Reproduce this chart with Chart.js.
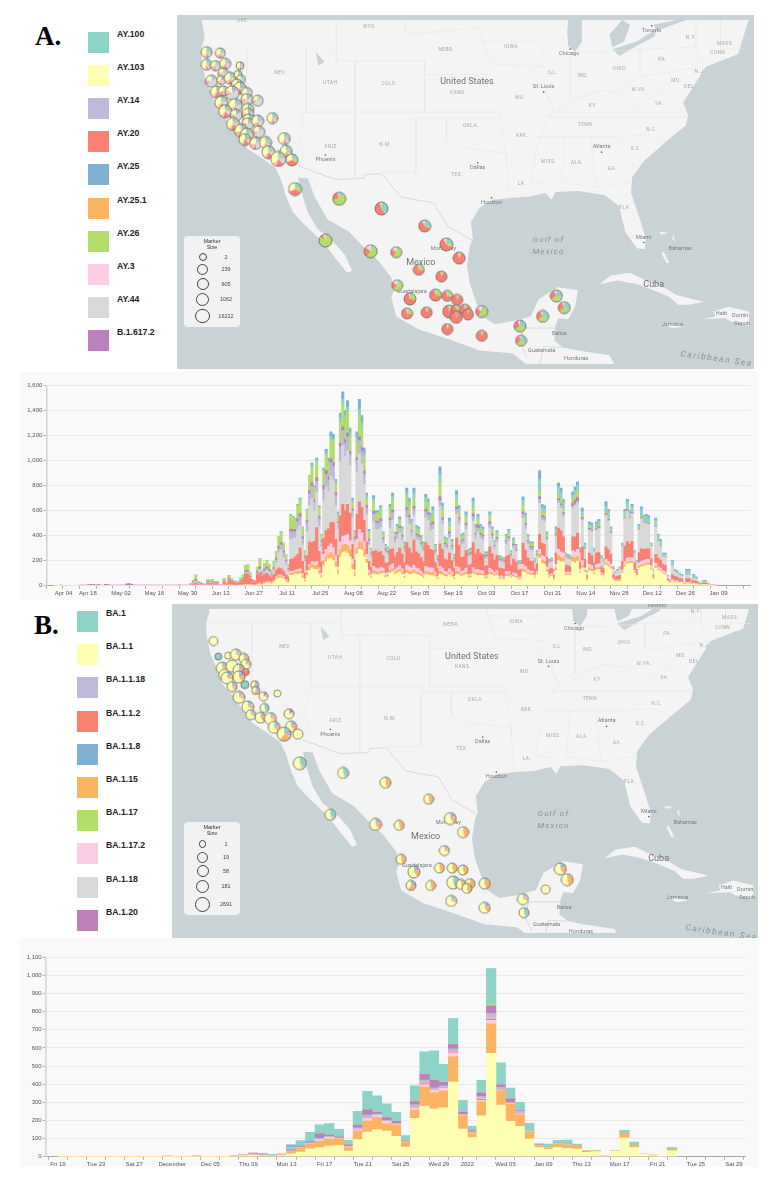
<!DOCTYPE html>
<html>
<head>
<meta charset="utf-8">
<script src="https://cdn.jsdelivr.net/npm/chart.js@4/dist/chart.umd.min.js"></script>
<style>
html, body { margin: 0; padding: 0; background: #fff; }
body { position: relative; width: 777px; height: 1179px; overflow: hidden; font-family: "Liberation Sans", Arial, sans-serif; }
canvas { position: absolute; display: block; }
.panel { background: #f9f9f9; }
.sea { background: #c9d2d5; }
.letter { position: absolute; font: bold 27px "Liberation Serif", serif; color: #000; line-height: 27px; }
.swatch { position: absolute; width: 21px; height: 21px; box-shadow: 0 0 0 1px rgba(255,255,255,.5); }
.name { position: absolute; font-weight: bold; font-size: 8.7px; line-height: 10px; color: #222; }
.sizebox { position: absolute; width: 56px; background: #f1f2f2; border-radius: 4px; }
.sizetitle { position: absolute; left: 0; width: 100%; text-align: center; font-size: 5.5px; line-height: 6px; color: #333; }
.ring { position: absolute; border: 0.7px solid #444; border-radius: 50%; box-sizing: border-box; }
.sizelabel { position: absolute; font-size: 5.5px; line-height: 6px; color: #444; width: 24px; text-align: center; }
</style>
</head>
<body>
<div class="letter" style="left:35px;top:23px">A.</div>
<div class="letter" style="left:34px;top:612px">B.</div>
<canvas id="mapA" class="sea" width="577" height="354" style="left:177px;top:15px"></canvas>
<canvas id="barsA" class="panel" width="738" height="228" style="left:20px;top:372px"></canvas>
<canvas id="mapB" class="sea" width="586" height="334" style="left:172px;top:604px"></canvas>
<canvas id="barsB" class="panel" width="738" height="229" style="left:20px;top:938px"></canvas>
<script>
// Legend names, same colour slot for both panels
const namesA = ['AY.100', 'AY.103', 'AY.14', 'AY.20', 'AY.25', 'AY.25.1', 'AY.26', 'AY.3', 'AY.44', 'B.1.617.2'];
const namesB = ['BA.1', 'BA.1.1', 'BA.1.1.18', 'BA.1.1.2', 'BA.1.1.8', 'BA.1.15', 'BA.1.17', 'BA.1.17.2', 'BA.1.18', 'BA.1.20'];
const palette = ['#8dd3c7', '#ffffb3', '#bebada', '#fb8072', '#80b1d3', '#fdb462', '#b3de69', '#fccde5', '#d9d9d9', '#bc80bd'];
// Bottom to top of the stacks, counter-clockwise in the pies
const stackOrder = [1, 5, 7, 3, 8, 2, 9, 6, 0, 4];

// Panel A daily counts, Apr 04 onward
const quietA = [0,0,0,0,0,0,0,0,0,0,0,0,0,0,0,0,0,0,0,0,0,0,0,0,0,0,0,0,0,0,0,0,0,0,0,0,0,0,0,0,0,0,0,0,0,0,0,0,0,0,0,0,0,0,0,0,0];
const ay103 = [...quietA, 0,0,0,0,0,0,0,0,0,0,0,0,0,0,0,0,0,0,0,0,0,0,0,0,0,0,0,0,
  5,8,5,15,20,20,15,25,50,60,60,50,30,20,
  85,85,95,90,95,60,30, 80,120,140,130,130,90,60, 160,190,215,220,200,150,90, 230,265,270,260,230,130,70,
  250,290,285,230,180,80,60, 95,90,85,95,100,65,70, 100,110,90,100,110,90,60, 100,90,90,100,90,85,75,60,
  90,85,80,80,70,50, 90,85,75,70,85,70,50, 90,85,75,80,90,60,65, 95,85,80,80,80,55,60, 90,85,75,80,50,55,45,
  75,75,60,70,65,45,50, 110,105,90,85,85,60,90, 220,180,170,110,65,75,45, 120,200,190,190,80,85,80,
  190,180,195,100,140,110,40, 120,110,90,125,130,80,70, 165,150,135,45,30,35,35, 100,150,175,180,180,100,70,
  140,150,155,165,165,130,50, 140,120,110,95,85,30,20, 30,25,25,20,20,8,15,15,10,12,10,6,5,8,8,5,3,2,1];
const ay251 = [...quietA, 0,0,0,0,0,0,0,0,0,0,0,0,0,0,
  2,1,2,2,2,1,1, 2,2,3,3,3,1,1,
  3,4,3,5,5,5,4,5,8,12,12,10,8,6,
  15,15,15,20,20,20,12, 25,30,30,30,35,30,20, 40,40,40,45,45,40,30, 60,60,60,60,60,40,30,
  50,60,60,60,30,20,15, 25,20,20,20,15,15,15, 25,25,15,20,20,20,15, 25,25,20,25,20,20,15,15,
  25,25,25,25,15,10, 25,20,15,15,20,15,10, 25,25,15,15,20,10,10, 20,15,20,15,15,10,10, 20,15,12,15,8,8,8,
  15,15,10,12,10,8,8, 25,20,15,12,12,8,10, 30,25,25,15,8,8,5, 20,40,35,30,10,10,8,
  40,40,40,10,25,12,5, 20,20,10,15,15,8,5, 15,15,12,4,3,3,5, 10,15,15,15,15,8,5,
  15,15,15,15,15,10,5, 15,10,10,5,5,2,1, 3,2,2,1,1,0,2,2,1,1,1,0,0,0,0,0,0,0,0];
const ay3 = [...quietA, 2,3,5,3,2,2,1,3,3,3,2,2,1,1,
  4,2,5,4,3,2,2, 3,5,7,7,5,3,3,
  5,8,5,7,8,7,5,8,12,15,15,12,10,7,
  15,15,15,20,20,15,10, 15,20,25,25,30,25,20, 50,60,60,70,60,50,30, 60,70,70,90,70,40,25,
  70,100,80,60,40,25,20, 35,30,30,30,25,20,20, 35,40,25,25,30,25,20, 40,35,30,40,30,30,25,20,
  40,35,35,35,20,15, 40,35,25,25,30,25,15, 35,35,25,25,30,20,20, 30,25,30,25,25,15,15, 30,25,20,25,15,15,12,
  25,25,15,20,20,12,12, 35,30,25,20,20,15,15, 40,35,35,25,12,12,8, 30,50,45,40,15,15,15,
  50,50,55,20,35,20,8, 30,30,20,30,30,15,12, 30,30,25,10,8,8,8, 15,30,30,30,30,15,10,
  30,30,30,30,30,20,10, 25,20,20,20,20,8,5, 15,12,12,10,8,3,10,10,5,8,6,3,2,3,3,2,1,1,1];
const ay20 = [...quietA, 5,12,15,8,6,5,3,15,14,18,12,14,4,4,
  30,10,45,28,22,18,18, 25,45,85,85,50,28,20,
  75,85,65,65,65,50,45,50,55,55,50,45,40,35,
  95,100,105,120,165,100,50, 120,180,150,170,270,130,90, 130,150,140,170,200,130,90, 210,255,200,240,220,120,80,
  200,220,200,170,100,70,50, 120,140,130,130,100,80,80, 130,120,100,120,140,120,90, 180,150,120,200,130,120,110,95,
  190,175,150,140,80,65, 180,150,100,95,125,90,65, 230,180,110,110,140,70,75, 200,130,160,140,130,75,75, 170,130,100,120,70,60,65,
  120,130,80,110,95,60,60, 170,130,90,80,75,50,60, 120,100,100,80,45,45,30, 90,170,170,130,60,50,50,
  110,120,130,60,110,70,30, 90,80,60,90,90,50,50, 100,90,80,30,30,30,35, 70,120,130,110,130,60,45,
  80,100,90,85,85,55,20, 70,70,65,50,50,15,12, 40,35,30,25,25,5,30,30,12,20,18,8,5,10,10,5,2,2,1];
const ay44 = [...quietA, 0,5,10,3,3,1,1,3,3,4,3,2,1,1,
  2,1,2,2,1,1,1, 3,3,5,5,4,2,2,
  5,15,8,15,22,20,10,30,55,120,150,110,80,45,
  160,160,150,200,180,130,90, 190,290,350,240,280,200,120, 300,350,300,370,340,270,210, 430,470,430,430,380,220,140,
  340,380,350,290,220,130,85, 240,170,185,190,100,80,60, 170,230,110,110,120,100,90, 200,190,130,200,100,105,85,80,
  200,200,150,170,70,50, 300,200,90,85,120,85,55, 190,170,100,105,170,70,70, 170,120,140,120,115,60,60, 150,120,85,110,50,50,50,
  95,115,65,90,80,40,40, 200,170,110,85,90,50,60, 250,180,180,130,50,50,25, 130,200,180,160,60,55,55,
  230,250,240,70,210,80,25, 180,190,90,180,190,60,50, 250,230,165,42,28,38,50, 120,220,245,200,220,80,55,
  180,240,210,200,195,100,35, 220,130,105,60,70,18,8, 70,30,28,25,20,2,30,30,10,20,15,5,3,5,6,2,1,1,1];
const ay14 = [...quietA, 2,5,10,4,4,2,1,5,4,5,4,3,1,1,
  3,2,4,3,2,2,2, 4,5,10,10,6,3,3,
  7,15,7,13,15,15,10,15,25,35,40,35,25,15,
  60,55,50,60,70,50,30, 70,90,100,70,90,60,40, 90,100,90,110,110,80,50, 120,120,110,110,90,50,30,
  90,110,100,80,50,35,20, 60,50,50,50,30,25,20, 60,60,30,35,40,35,25, 60,55,40,50,30,30,25,20,
  45,45,40,40,20,15, 45,35,25,25,35,25,15, 40,35,25,25,35,15,15, 35,30,30,25,25,15,15, 30,25,20,25,12,12,12,
  20,20,15,20,15,10,8, 35,30,20,20,20,10,12, 30,25,25,15,8,8,5, 15,20,20,20,8,8,8,
  15,15,15,8,12,8,3, 10,10,5,8,8,5,4, 8,8,5,2,1,2,2, 3,5,5,5,5,2,2,
  3,5,3,3,3,2,1, 3,3,2,1,1,0,0, 2,1,1,1,0,0,1,1,0,0,0,0,0,0,0,0,0,0,0];
const b16172 = [0,0,1,0,0,0,0,0,0,0,1,3,3,1,6,8,7,5,8,1,1,10,7,2,1,1,2,2,2,1,12,15,11,3,1,2,2,2,1,1,1,1,2,1,1,1,1,1,1,2,2,3,4,3,2,3,3,
  3,8,10,4,3,2,2,6,4,5,4,3,1,1,
  4,2,6,4,3,2,2, 5,5,10,10,7,3,3,
  10,15,7,15,15,13,8,12,15,18,18,15,12,10,
  20,20,20,25,25,15,12, 20,30,30,25,30,20,15, 30,30,30,30,30,25,15, 30,30,30,30,25,15,15,
  25,30,30,30,20,15,10, 20,15,15,20,15,10,10, 20,20,15,15,15,15,10, 20,20,15,20,15,15,12,10,
  20,20,15,20,10,8, 30,20,12,10,15,10,8, 20,15,10,10,15,10,10, 25,15,25,15,15,10,10, 20,15,10,10,8,6,6,
  10,10,8,10,8,5,5, 15,15,10,10,10,5,5, 20,15,15,10,4,4,2, 10,15,15,15,5,5,4,
  25,30,30,5,15,5,2, 8,8,5,10,10,3,3, 8,8,8,2,2,2,2, 4,5,8,5,8,2,2,
  5,5,5,5,5,2,1, 4,3,3,2,2,1,0, 2,1,1,1,1,0,1,1,0,1,0,0,0,0,0,0,0,0,0];
const ay26 = [...quietA, 3,7,35,8,7,3,2,18,12,15,10,6,2,2,
  10,2,16,12,7,4,4, 18,20,40,45,25,10,8,
  35,65,20,40,50,40,23,45,55,75,80,60,45,32,
  110,95,80,100,110,70,40, 80,110,125,90,125,65,35, 110,120,100,150,165,70,45, 170,180,150,170,120,50,25,
  130,170,150,110,60,45,25, 75,50,55,70,25,20,20, 70,80,25,35,40,40,20, 80,70,45,70,35,35,30,25,
  65,60,40,60,20,12, 110,55,25,30,50,25,15, 55,45,25,25,40,15,15, 50,35,40,35,30,15,10, 40,30,18,30,12,12,10,
  25,30,12,20,17,8,7, 50,40,25,20,18,10,12, 40,35,35,20,8,8,4, 20,35,35,30,10,10,8,
  30,35,40,10,20,12,2, 15,12,8,10,12,6,5, 12,12,10,4,2,2,3, 5,15,15,10,12,4,3,
  7,10,7,7,7,3,2, 8,6,5,3,3,1,1, 3,2,1,1,1,0,1,1,0,1,1,0,0,0,0,0,0,0,0];
const ay100 = [...quietA, 0,0,0,0,0,0,0,0,0,0,0,0,0,0,0,0,0,0,0,0,0,0,0,0,0,0,0,0,0,0,0,0,0,0,0,0,0,0,
  5,3,0,0,
  5,5,5,10,10,5,3, 5,5,15,10,15,10,5, 15,20,20,30,25,15,15, 35,45,40,40,30,15,15,
  35,50,45,30,20,15,10, 25,20,15,20,10,8,8, 20,30,10,15,20,15,10, 40,35,20,40,15,15,12,15,
  30,30,25,35,15,8, 75,35,13,15,35,15,10, 45,30,15,15,30,12,12, 50,20,25,20,20,8,8, 25,15,12,15,8,7,7,
  15,20,8,18,12,7,5, 45,25,15,10,12,7,8, 100,30,30,15,5,5,3, 20,60,60,50,7,7,7,
  35,45,55,10,30,13,3, 20,25,7,27,30,8,6, 50,45,20,6,3,5,5, 8,35,45,30,33,5,4,
  20,55,33,45,40,12,3, 40,38,40,17,18,3,2, 25,17,15,12,10,1,30,30,9,20,15,6,4,10,10,5,2,1,1];
const ay25 = [...quietA, 0,0,0,0,0,0,0,0,0,0,0,0,0,0,0,0,0,0,0,0,0,0,0,0,0,0,0,0,0,0,0,0,0,0,0,0,0,0,0,0,0,0,
  5,5,5,5,5,5,3, 5,5,15,10,15,10,5, 15,30,25,35,35,20,15, 35,55,40,50,35,20,10,
  40,80,60,40,20,15,5, 25,15,15,15,10,7,7, 20,25,10,15,15,10,10, 35,30,20,35,15,15,11,10,
  25,20,20,25,10,7, 55,25,10,10,25,10,7, 30,20,10,10,20,8,8, 25,15,20,15,15,7,7, 15,10,8,10,7,5,5,
  10,10,7,10,8,5,5, 25,15,10,8,8,5,8, 70,25,25,10,5,5,3, 15,30,30,25,5,5,5,
  25,25,30,7,23,10,2, 17,15,5,15,15,5,5, 32,22,10,5,3,5,5, 5,15,22,15,17,4,4,
  10,20,12,15,15,6,3, 15,10,10,7,6,2,1, 10,5,5,4,4,1,10,10,3,7,4,2,1,4,3,1,1,1,0];
const seriesA = [ay100, ay103, ay14, ay20, ay25, ay251, ay26, ay3, ay44, b16172];

// Panel B daily counts, Nov 19 onward
const ba11 = [0,0,0,0,0,0,0,0,0,0,0,1,0,0,1,0,0,0,3,6,7,5,4,6,16,26,43,50,59,61,31,94,136,149,142,112,53,211,279,263,270,412,153,105,226,570,285,195,167,97,51,40,51,46,42,24,28,3,29,103,50,13,6,1,33];
const ba115 = [0,0,0,0,0,0,0,0,0,0,0,0,0,0,3,0,0,0,1,2,3,2,2,3,12,22,25,35,38,36,20,47,61,68,40,63,26,46,105,90,92,139,73,18,77,163,79,95,65,39,10,11,19,18,18,8,5,0,2,24,14,2,3,0,7];
const ba1172 = [0,0,0,0,0,0,0,0,0,0,0,0,0,0,0,0,0,0,1,1,2,2,1,1,2,2,5,10,10,3,3,8,14,11,13,4,3,13,13,13,15,21,3,5,8,19,5,6,6,2,2,1,1,1];
const ba112 = [0,0,0,0,0,0,0,0,0,0,0,0,0,0,0,0,0,0,0,0,0,0,0,0,1,1,1,1,1,1,1,2,4,2,1,1,1,2,5,3,3,2,1,3,6,9,2,1,1];
const ba118 = [0,0,0,0,0,0,0,0,0,0,0,0,0,0,0,0,0,0,0,0,0,0,0,0,0,0,0,0,0,0,0,2,2,1,1,1,0,1,3,2,1,3,0,0,3,5,1];
const ba1118 = [0,0,0,0,0,0,0,0,0,0,0,0,0,0,0,0,0,0,0,0,1,1,0,0,2,2,3,6,4,3,3,6,12,4,4,3,1,14,17,9,10,18,4,8,12,25,11,1,13,1,1];
const ba120 = [0,0,0,0,0,0,0,0,0,0,0,0,0,0,0,0,0,0,0,0,1,1,1,1,5,5,6,24,7,6,7,16,30,10,15,11,3,17,32,41,19,23,12,5,19,40,13,21,2,1,1];
const ba117 = [0,0,0,0,0,0,0,0,0,0,0,3,0,0,0,0,0,0,0,0,0,0,0,0,0,0,0,0,0,0,0,1,3,2,1,1,1,3,3,3,1,3,1,1,1,10,1,1,1,1];
const ba1 = [0,0,0,0,0,0,0,0,0,0,0,0,0,0,0,0,0,0,3,3,6,6,4,4,15,28,50,48,62,40,25,74,98,88,73,49,27,83,120,159,99,139,63,22,68,196,121,58,45,43,8,18,19,27,10,1,1,1,1,18,16,0,0,0,11];
const ba118b = [0,0,0,0,0,0,0,0,0,0,0,0,0,0,0,0,0,0,0,0,0,0,0,0,12,2,2,1,1,1,0,0,0,0,0,0,0,0,0,0,0,0,0,0,0,0];
const seriesB = [ba1, ba11, ba1118, ba112, ba118b, ba115, ba117, ba1172, ba118, ba120];

// X axes
const tickDaysA = [0,7,14,21,28,35,42,49,56,63,70,77,84,91,98,105,112,119,126,133,140,147,154,161,168,175,182,189,196,203,210,217,224,231,238,245,252,259,266,273,280,287];
const tickLabelsA = ['Apr 04','','Apr 18','','May 02','','May 16','','May 30','','Jun 13','','Jun 27','','Jul 11','','Jul 25','','Aug 08','','Aug 22','','Sep 05','','Sep 19','','Oct 03','','Oct 17','','Oct 31','','Nov 14','','Nov 28','','Dec 12','','Dec 26','','Jan 09',''];
const tickDaysB = [0,2,4,6,8,10,12,14,16,18,20,22,24,26,28,30,32,34,36,38,40,42,43,45,47,49,51,53,55,57,59,61,63,65,67,69,71];
const tickLabelsB = ['Fri 19','','Tue 23','','Sat 27','','December','','Dec 05','','Thu 09','','Mon 13','','Fri 17','','Tue 21','','Sat 25','','Wed 29','','2022','','Wed 05','','Jan 09','','Thu 13','','Mon 17','','Fri 21','','Tue 25','','Sat 29'];
const yTicksStepA = 200, yMaxA = 1600, yTicksStepB = 100, yMaxB = 1100;

// Base map, flat x,y lists in map units
const continent = [197,15,200,33,197,43,197,57,201,77,207,90,213,107,227,123,233,133,243,147,258,157,272,167,278,180,283,197,290,213,303,227,320,243,333,260,345,275,350,273,343,257,328,240,315,230,305,213,300,197,295,177,305,178,312,197,325,220,347,233,363,250,377,263,390,280,393,293,390,300,395,320,417,333,447,343,480,355,513,358,527,369,617,369,612,360,580,355,565,352,556,345,557,330,560,322,570,323,577,310,580,293,560,290,540,302,532,320,513,325,495,328,483,320,477,307,470,287,467,267,470,247,473,240,471,223,480,208,493,200,513,198,530,197,547,193,553,200,557,192,580,191,607,195,622,207,628,233,640,250,648,251,649,240,643,220,634,193,635,177,647,160,670,140,690,123,692,113,687,100,710,63,743,50,752,20,754,15];
const islands = [
  [602,287,613,278,633,275,647,282,667,290,680,298,708,305,693,308,682,308,673,300,657,293,640,287,620,283],
  [718,315,733,310,754,315,754,330,735,325,730,322,707,323,720,320],
  [666,327,680,328,687,331,675,332],
  [667,253,673,265,670,265,665,255],
  [662,233,672,234,665,236],
  [677,236,679,244,676,240]
];
const lakes = [
  [570,15,584,15,584,37,577,48,570,42,569,27],
  [615,45,640,37,660,24,658,32,637,43,622,52],
  [657,20,680,15,690,15,660,26],
  [625,15,633,20,627,37,615,43,612,30],
  [313,48,322,58,316,62]
];
const stateLines = [
  [197,44,303,44],[243,44,243,103,268,122,302,150],[303,44,303,110],[303,110,298,110,300,125,296,140,302,150,296,165],
  [334,15,334,57,400,57],[303,44,334,44],[353,57,353,178],[303,110,424,110],[380,57,424,57],[424,57,424,110,500,110],[404,15,404,30,480,23],
  [424,71,493,71],[415,116,500,116],[415,116,415,172,380,172],[446,116,446,140,463,147,507,152],[500,110,507,152,507,159,510,197],[507,159,537,159],
  [545,77,555,110,547,120,537,150,532,182,550,183],[480,23,490,60,545,63],[480,37,537,37],[537,37,545,47,533,70,545,87,555,107],
  [572,48,600,48],[572,48,572,97],[600,48,643,45,643,70,623,90,600,87],[547,115,690,115],[623,90,637,107,667,87],[643,45,700,43,708,63,643,73],
  [537,135,617,135],[567,135,563,182],[593,135,598,187],[598,187,635,182],[563,182,598,187],[617,135,638,167],[617,135,650,133,670,140],
  [572,97,600,87],[600,87,547,115],[667,87,690,115],[700,15,700,43],[725,15,725,45,750,45]
];
const usMexicoBorder = [295,165,333,179,362,178,363,174,380,173,400,197,415,200,433,203,447,227,473,242];
const centralBorders = [[521,345,525,332,560,332,557,345],[541,369,545,351,565,352],[525,332,520,345,528,362]];
const cityNames = ['Toronto','Chicago','St. Louis','Atlanta','Dallas','Houston','Miami','Phoenix','Monterrey','Guadalajara','Belize','Guatemala','Honduras','Bahamas','Haiti','Domin','Repub','Jamaica'];
const cityX = [655,571,545,604,478,492,647,323,443,411,561,543,578,684,726,745,747,676];
const cityY = [26,50,84,145,167,203,239,159,250,295,338,355,363,250,317,319,327,328];
const dotX = [655,572,545,604,478,492,647,323];
const dotY = [21,45,89,151,162,198,244,154];
const stateNames = ['ORE.','WYO.','NEV.','UTAH','COLO.','ARIZ.','N.M.','NEBR.','IOWA','ILL.','IND.','OHIO','PA.','N.Y.','MASS.','CONN.','N.J.','MD.','DEL','W.VA.','VA.','KY.','KANS.','MO.','TENN.','N.C.','S.C.','OKLA.','ARK.','MISS.','ALA.','GA.','TEX.','LA.','FLA.'];
const stateX = [239,368,277,328,388,329,384,446,512,554,585,622,666,695,730,723,704,680,693,642,663,595,458,521,588,655,639,471,523,550,579,615,457,523,628];
const stateY = [16,22,69,80,81,145,143,46,43,69,72,65,56,33,39,49,68,78,84,87,101,103,90,95,123,128,148,124,134,161,162,168,174,184,208];
const countryNames = ['United States','Mexico','Cuba'];
const countryX = [467,420,657];
const countryY = [79,265,287];

// Pie shares in stack order: yellow, orange, pink, red, grey, lavender, purple, green, teal, blue
const mixesA = [
  [35,5,6,10,20,8,2,4,6,4],
  [30,8,5,8,30,7,2,3,5,2],
  [42,3,5,8,10,5,3,8,12,4],
  [20,3,5,5,50,7,2,3,3,2],
  [38,3,4,18,15,4,2,8,4,4],
  [30,0,2,35,0,0,0,15,15,3],
  [2,0,5,8,0,0,0,85,0,0],
  [2,0,3,22,0,0,0,65,8,0],
  [2,0,3,55,0,0,0,2,38,0],
  [2,0,6,60,0,0,0,8,24,0],
  [5,0,10,25,0,0,0,50,10,0],
  [1,0,2,90,0,0,0,5,2,0],
  [1,0,3,70,0,0,0,22,4,0],
  [2,0,5,28,0,0,0,35,30,0]
];
const markerXA = [202,216,202,211,221,236,219,207,217,226,234,237,233,212,219,236,228,243,217,231,243,254,244,221,232,244,245,229,269,244,254,237,255,243,281,241,252,262,265,283,275,289,292,337,380,323,369,395,424,446,459,418,441,396,435,447,457,409,406,426,449,456,465,468,456,482,447,482,521,522,544,566,558];
const markerYA = [48,49,61,62,60,62,70,78,77,75,71,76,82,89,88,85,90,90,100,103,97,98,107,109,113,112,118,122,116,122,119,129,130,133,137,138,142,141,151,150,158,159,189,199,209,242,253,254,227,246,260,272,279,288,298,299,303,302,317,316,315,313,313,318,321,315,333,340,330,345,320,311,299];
const markerRA = [5.5,5,5.5,5,5.5,4,5.5,6,4.5,6,4,4.5,6,6,5,6,7,5.5,6.5,7,6,5.5,6,6.5,6,6,6,6.5,5.5,6,6,6.5,6,6.5,6,6,6,6,6.5,6,7.5,6,6.5,6.5,6.5,6.5,6.5,5.5,6,6.5,6,5.5,5.5,5.5,6,5.5,5.5,6,5.5,5.5,6.5,5,5.5,5.5,6,6,5.5,5.5,6,5.5,6,6,6];
const markerMixA = [2,0,2,1,0,2,3,3,1,0,2,2,3,4,1,0,3,1,4,0,3,3,2,4,3,3,2,4,2,3,0,1,3,4,2,4,1,2,4,2,4,5,5,7,8,6,10,10,9,9,11,12,11,10,12,12,11,12,12,11,11,12,11,11,11,10,11,11,13,13,13,13,13];
const mixesB = [
  [100,0,0,0,0,0,0,0,0,0],
  [0,0,0,0,0,0,0,0,100,0],
  [5,0,0,90,0,0,0,0,5,0],
  [70,12,2,1,0,2,3,0,10,0],
  [60,20,1,1,0,3,6,0,9,0],
  [55,5,1,1,0,0,0,0,38,0],
  [55,40,0,0,0,0,0,0,5,0],
  [72,6,2,0,0,4,12,0,4,0],
  [40,30,2,3,0,5,5,0,15,0]
];
const markerXB = [209,214,224,232,240,242,218,220,228,235,242,223,235,228,241,251,252,235,260,274,261,244,247,257,286,267,271,288,281,295,297,341,384,328,374,398,400,428,450,463,444,413,439,452,463,410,430,453,451,461,470,467,485,485,524,525,547,562,569];
const markerYB = [637,653,652,651,655,661,665,672,663,667,669,675,674,684,682,682,688,695,694,691,706,705,713,716,712,717,726,725,733,733,763,773,783,816,826,827,862,800,820,834,853,875,871,871,873,889,889,886,905,888,887,892,887,912,903,917,893,872,883];
const markerRB = [4.5,3.5,3.5,5.5,5,5,6,5.5,6,6,3.5,6,6,5,4,4,4,6,4.5,3.5,4.5,6,5,5.5,5,6,6,5.5,7,5,6.5,5.5,5.5,5.5,6,5,5,5,6,5.5,5,6,5,5,5,5,5,6.5,5.5,5,5,5,5.5,5.5,5.5,5,4.5,6,6];
const markerMixB = [0,1,0,3,3,3,3,0,0,4,2,3,4,4,1,8,8,3,7,0,5,3,3,4,7,3,4,4,8,0,5,5,6,5,4,6,6,6,4,6,3,4,6,6,6,8,6,5,3,6,6,6,6,4,3,5,0,4,6];

// Marker size keys
const sizeLabelsA = ['2','239','605','1062','16222'];
const sizeLabelsB = ['1','19','58','181','2691'];

function buildLegend(names, swatchLeft, swatchTop, textLeft, textTop) {
    names.forEach((name, i) => {
        const sw = document.createElement('div');
        sw.className = 'swatch';
        sw.style.cssText = `left:${swatchLeft}px;top:${swatchTop + i * 33.2}px;background:${palette[i]}`;
        document.body.appendChild(sw);
        const label = document.createElement('div');
        label.className = 'name';
        label.style.cssText = `left:${textLeft}px;top:${textTop + i * 33.2}px`;
        label.textContent = name;
        document.body.appendChild(label);
    });
}
buildLegend(namesA, 88, 31.5, 117, 28.5);
buildLegend(namesB, 77, 611, 106, 608);

function buildSizeKey(labels, top, height, rows) {
    const box = document.createElement('div');
    box.className = 'sizebox';
    box.style.cssText = `left:184px;top:${top}px;height:${height}px`;
    box.innerHTML = '<div class="sizetitle" style="top:2px">Marker<br>Size</div>';
    document.body.appendChild(box);
    labels.forEach((text, i) => {
        const r = rows[i][1];
        const ring = document.createElement('div');
        ring.className = 'ring';
        ring.style.cssText = `left:${18.5 - r}px;top:${rows[i][0] - top - r}px;width:${2 * r}px;height:${2 * r}px`;
        box.appendChild(ring);
        const lab = document.createElement('div');
        lab.className = 'sizelabel';
        lab.style.cssText = `left:30px;top:${rows[i][0] - top - 3}px`;
        lab.textContent = text;
        box.appendChild(lab);
    });
}
buildSizeKey(sizeLabelsA, 236, 91, [[257, 4], [269, 5.5], [284, 6], [299, 6.5], [316, 7.3]]);
buildSizeKey(sizeLabelsB, 822, 93, [[844, 3.7], [857, 5.5], [871, 6], [886, 6.5], [904, 7.5]]);

const toPoints = flat => {
    const pts = [];
    for (let i = 0; i < flat.length; i += 2) pts.push({ x: flat[i], y: flat[i + 1] });
    return pts;
};

// One canvas per pie marker, used as the point style
function pieImage(shares, r) {
    const size = Math.ceil(2 * r + 2);
    const c = document.createElement('canvas');
    c.width = size;
    c.height = size;
    const g = c.getContext('2d');
    const total = shares.reduce((a, b) => a + b, 0);
    let angle = -Math.PI / 2;
    shares.forEach((share, i) => {
        if (!share) return;
        const next = angle - share / total * Math.PI * 2;
        g.beginPath();
        g.moveTo(size / 2, size / 2);
        g.arc(size / 2, size / 2, r, angle, next, true);
        g.closePath();
        g.fillStyle = palette[stackOrder[i]];
        g.fill();
        angle = next;
    });
    g.beginPath();
    g.arc(size / 2, size / 2, r, 0, Math.PI * 2);
    g.strokeStyle = '#666';
    g.lineWidth = 0.8;
    g.stroke();
    return c;
}

const mapLabels = {
    id: 'mapLabels',
    beforeDatasetDraw(chart, args) {
        if (chart.data.datasets[args.index].label !== 'markers') return;
        const { ctx, scales: { x, y } } = chart;
        ctx.save();
        ctx.textAlign = 'center';
        ctx.textBaseline = 'middle';
        ctx.font = '4.8px Roboto';
        ctx.letterSpacing = '0.5px';
        ctx.fillStyle = '#a3a8aa';
        stateNames.forEach((s, i) => ctx.fillText(s, x.getPixelForValue(stateX[i]), y.getPixelForValue(stateY[i])));
        ctx.font = '5.6px Roboto';
        ctx.letterSpacing = '0px';
        ctx.fillStyle = '#777c7e';
        cityNames.forEach((s, i) => ctx.fillText(s, x.getPixelForValue(cityX[i]), y.getPixelForValue(cityY[i])));
        ctx.font = '9px Roboto';
        ctx.fillStyle = '#6d7274';
        countryNames.forEach((s, i) => ctx.fillText(s, x.getPixelForValue(countryX[i]), y.getPixelForValue(countryY[i])));
        ctx.font = 'italic 8px Roboto';
        ctx.letterSpacing = '1.2px';
        ctx.fillStyle = '#8a9498';
        ctx.fillText('Gulf of', x.getPixelForValue(550), y.getPixelForValue(241));
        ctx.fillText('Mexico', x.getPixelForValue(550), y.getPixelForValue(254));
        ctx.translate(x.getPixelForValue(721), y.getPixelForValue(364));
        ctx.rotate(0.14);
        ctx.font = 'italic 8.5px Roboto';
        ctx.letterSpacing = '1.5px';
        ctx.fillText('Caribbean Sea', 0, 0);
        ctx.restore();
    }
};

function makeMap(id, xMin, xMax, yMin, yMax, mx, my, mr, mix, mixes) {
    const shape = (flat, color, order) => ({
        type: 'line', data: toPoints(flat), fill: 'shape', backgroundColor: color,
        borderWidth: 0, pointRadius: 0, order
    });
    const line = (flat, color, width, order) => ({
        type: 'line', data: toPoints(flat), fill: false, borderColor: color,
        borderWidth: width, pointRadius: 0, order
    });
    const datasets = [
        shape(continent, '#f4f4f4', 20),
        ...islands.map(p => shape(p, '#f4f4f4', 20)),
        ...lakes.map(p => shape(p, '#c9d2d5', 19)),
        ...stateLines.map(p => line(p, '#e9e9e9', 0.7, 18)),
        ...centralBorders.map(p => line(p, '#cfd1d2', 0.7, 18)),
        line(usMexicoBorder, '#d9dada', 1, 18),
        { type: 'scatter', data: dotX.map((v, i) => ({ x: v, y: dotY[i] })), pointRadius: 0.8, backgroundColor: '#555', borderWidth: 0, order: 17 },
        {
            type: 'scatter', label: 'markers', order: 1,
            data: mx.map((v, i) => ({ x: v, y: my[i] })),
            pointStyle: mx.map((v, i) => pieImage(mixes[mix[i]], mr[i])),
            pointRadius: 5, borderWidth: 0
        }
    ];
    return new Chart(document.getElementById(id), {
        type: 'line',
        data: { datasets },
        options: {
            responsive: false,
            animation: false,
            events: [],
            layout: { padding: 0 },
            plugins: { legend: { display: false }, tooltip: { enabled: false } },
            scales: {
                x: { type: 'linear', display: false, min: xMin, max: xMax },
                y: { type: 'linear', display: false, min: yMin, max: yMax, reverse: true }
            }
        },
        plugins: [mapLabels]
    });
}

makeMap('mapA', 177, 754, 15, 369, markerXA, markerYA, markerRA, markerMixA, mixesA);
makeMap('mapB', 167, 753, 30, 364, markerXB.map(v => v - 5), markerYB.map(v => v - 574), markerRB, markerMixB, mixesB);

function makeBars(id, series, names, cfg) {
    const datasets = stackOrder.map(k => ({
        label: names[k],
        data: series[k].map((v, i) => ({ x: i + 0.5, y: v })),
        backgroundColor: palette[k],
        borderWidth: 0,
        barPercentage: 1,
        categoryPercentage: 1
    }));
    return new Chart(document.getElementById(id), {
        type: 'bar',
        data: { datasets },
        options: {
            responsive: false,
            animation: false,
            events: [],
            layout: { padding: { top: cfg.top, right: cfg.right, left: 0, bottom: 0 } },
            plugins: { legend: { display: false }, tooltip: { enabled: false } },
            scales: {
                x: {
                    type: 'linear', stacked: true, min: cfg.xMin, max: cfg.xMax,
                    afterBuildTicks(scale) { scale.ticks = cfg.tickDays.map(v => ({ value: v })); },
                    afterFit(scale) { scale.height = cfg.xHeight; },
                    grid: { drawOnChartArea: false, tickLength: 3, tickColor: '#8c8c8c', tickWidth: 0.7 },
                    border: { color: '#a8a8a8', width: 1 },
                    ticks: {
                        autoSkip: false, maxRotation: 0, padding: 1, align: cfg.align,
                        color: '#555', font: { family: 'Liberation Sans', size: 6 },
                        callback: value => cfg.tickLabels[cfg.tickDays.indexOf(value)] || ''
                    }
                },
                y: {
                    stacked: true, min: 0, max: cfg.yMax,
                    afterFit(scale) { scale.width = cfg.yWidth; },
                    grid: { color: '#e9e9e9', lineWidth: 1, tickLength: 3, tickColor: '#9a9a9a', tickWidth: 0.7 },
                    border: { color: '#d6d6d6', width: 1.6 },
                    ticks: {
                        stepSize: cfg.yStep, padding: 1,
                        color: '#555', font: { family: 'Liberation Sans', size: 6 },
                        callback: value => value.toLocaleString('en-US')
                    }
                }
            }
        }
    });
}

makeBars('barsA', seriesA, namesA, {
    top: 13.7, right: 7.3, yWidth: 26.3, xHeight: 14.3, xMin: 0, xMax: 290,
    yMax: yMaxA, yStep: yTicksStepA, tickDays: tickDaysA, tickLabels: tickLabelsA, align: 'inner'
});
makeBars('barsB', seriesB, namesB, {
    top: 19.3, right: 13, yWidth: 25.7, xHeight: 10.3, xMin: -0.3, xMax: 71.17,
    yMax: yMaxB, yStep: yTicksStepB, tickDays: tickDaysB, tickLabels: tickLabelsB, align: 'center'
});
</script>
</body>
</html>
